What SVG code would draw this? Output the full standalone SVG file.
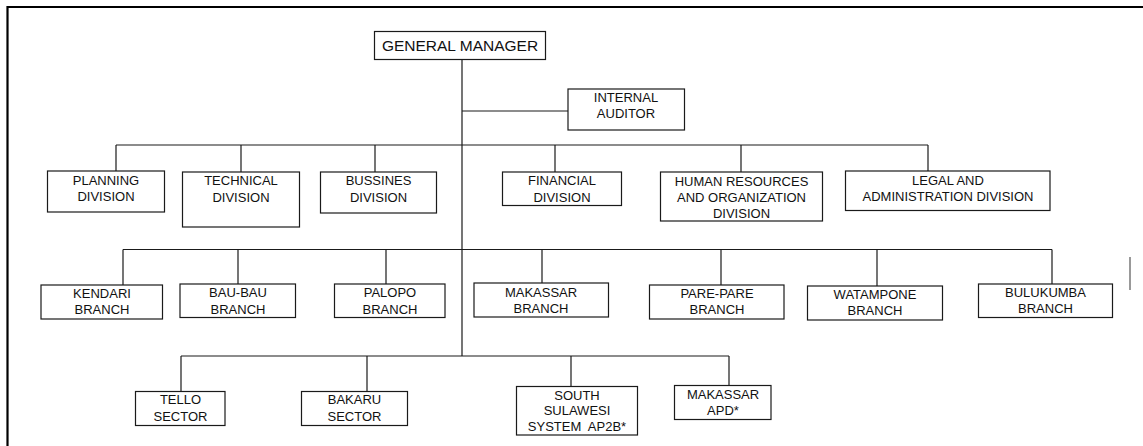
<svg xmlns="http://www.w3.org/2000/svg" width="1143" height="446" viewBox="0 0 1143 446">
  <style>
    .box { fill: #ffffff; stroke: #1a1a1a; stroke-width: 1.2; }
    .line { stroke: #1a1a1a; stroke-width: 1.2; fill: none; }
    .frame { stroke: #000000; stroke-width: 2.2; fill: none; }
    text { font-family: "Liberation Sans", Arial, sans-serif; font-size: 13px; fill: #111111; text-anchor: middle; }
    .title { font-size: 15.5px; }
  </style>
  <rect width="1143" height="446" fill="#ffffff"/>

  <!-- page frame (top and left edges) -->
  <path class="frame" d="M7.5 446 V7 H1143"/>
  <!-- small vertical mark at right margin -->
  <line x1="1130" y1="257" x2="1130" y2="290" stroke="#777777" stroke-width="1.5"/>

  <!-- connectors -->
  <g id="connectors">
    <!-- trunk -->
    <line class="line" x1="462" y1="59" x2="462" y2="356"/>
    <!-- internal auditor -->
    <line class="line" x1="462" y1="111" x2="568" y2="111"/>
    <!-- divisions bus -->
    <line class="line" x1="116" y1="145" x2="928" y2="145"/>
    <line class="line" x1="116" y1="145" x2="116" y2="171"/>
    <line class="line" x1="241" y1="145" x2="241" y2="172"/>
    <line class="line" x1="375" y1="145" x2="375" y2="172"/>
    <line class="line" x1="555" y1="145" x2="555" y2="172"/>
    <line class="line" x1="741" y1="145" x2="741" y2="172"/>
    <line class="line" x1="928" y1="145" x2="928" y2="171"/>
    <!-- branches bus -->
    <line class="line" x1="123" y1="249.5" x2="1052" y2="249.5"/>
    <line class="line" x1="123" y1="249.5" x2="123" y2="285"/>
    <line class="line" x1="238" y1="249.5" x2="238" y2="284"/>
    <line class="line" x1="386" y1="249.5" x2="386" y2="284"/>
    <line class="line" x1="542" y1="249.5" x2="542" y2="283"/>
    <line class="line" x1="721" y1="249.5" x2="721" y2="285"/>
    <line class="line" x1="877" y1="249.5" x2="877" y2="286"/>
    <line class="line" x1="1052" y1="249.5" x2="1052" y2="284"/>
    <!-- sectors bus -->
    <line class="line" x1="181" y1="356" x2="729" y2="356"/>
    <line class="line" x1="181" y1="356" x2="181" y2="391"/>
    <line class="line" x1="367" y1="356" x2="367" y2="391"/>
    <line class="line" x1="571" y1="356" x2="571" y2="386"/>
    <line class="line" x1="729" y1="356" x2="729" y2="385"/>
  </g>

  <g id="general-manager">
    <rect class="box" x="374.5" y="31.5" width="171" height="28"/>
    <text class="title" x="460" y="51">GENERAL MANAGER</text>
  </g>

  <g id="internal-auditor">
    <rect class="box" x="568" y="89" width="116.5" height="41"/>
    <text x="626" y="101.7">INTERNAL</text>
    <text x="626" y="117.7">AUDITOR</text>
  </g>

  <!-- divisions -->
  <g id="planning-division">
    <rect class="box" x="47.5" y="171" width="117" height="41"/>
    <text x="106" y="184.7">PLANNING</text>
    <text x="106" y="201">DIVISION</text>
  </g>
  <g id="technical-division">
    <rect class="box" x="182.5" y="172" width="117" height="55"/>
    <text x="241" y="185.3">TECHNICAL</text>
    <text x="241" y="202">DIVISION</text>
  </g>
  <g id="bussines-division">
    <rect class="box" x="320.5" y="172" width="116" height="41"/>
    <text x="378.5" y="185.3">BUSSINES</text>
    <text x="378.5" y="202">DIVISION</text>
  </g>
  <g id="financial-division">
    <rect class="box" x="502.5" y="172" width="119" height="33.5"/>
    <text x="562" y="185.3">FINANCIAL</text>
    <text x="562" y="202">DIVISION</text>
  </g>
  <g id="hr-division">
    <rect class="box" x="660.5" y="172" width="162" height="49"/>
    <text x="741.5" y="185.7">HUMAN RESOURCES</text>
    <text x="741.5" y="202">AND ORGANIZATION</text>
    <text x="741.5" y="217.7">DIVISION</text>
  </g>
  <g id="legal-division">
    <rect class="box" x="845.5" y="171" width="204.5" height="39.5"/>
    <text x="948" y="185">LEGAL AND</text>
    <text x="948" y="200.7">ADMINISTRATION DIVISION</text>
  </g>

  <!-- branches -->
  <g id="kendari-branch">
    <rect class="box" x="41" y="285" width="121.5" height="34"/>
    <text x="102" y="297.7">KENDARI</text>
    <text x="102" y="314">BRANCH</text>
  </g>
  <g id="baubau-branch">
    <rect class="box" x="180" y="284" width="115.5" height="33.5"/>
    <text x="238" y="296.7">BAU-BAU</text>
    <text x="238" y="314">BRANCH</text>
  </g>
  <g id="palopo-branch">
    <rect class="box" x="334.5" y="284" width="110.5" height="33.5"/>
    <text x="390" y="296.7">PALOPO</text>
    <text x="390" y="314">BRANCH</text>
  </g>
  <g id="makassar-branch">
    <rect class="box" x="474" y="283" width="134.5" height="34"/>
    <text x="541" y="297">MAKASSAR</text>
    <text x="541" y="312.7">BRANCH</text>
  </g>
  <g id="parepare-branch">
    <rect class="box" x="649.5" y="285" width="134.5" height="34"/>
    <text x="717" y="298.3">PARE-PARE</text>
    <text x="717" y="314">BRANCH</text>
  </g>
  <g id="watampone-branch">
    <rect class="box" x="807.5" y="286" width="135" height="34"/>
    <text x="875" y="299">WATAMPONE</text>
    <text x="875" y="315.3">BRANCH</text>
  </g>
  <g id="bulukumba-branch">
    <rect class="box" x="978.5" y="284" width="134" height="33.5"/>
    <text x="1045.5" y="297">BULUKUMBA</text>
    <text x="1045.5" y="312.7">BRANCH</text>
  </g>

  <!-- sectors -->
  <g id="tello-sector">
    <rect class="box" x="135.5" y="391.5" width="89.5" height="34"/>
    <text x="180.5" y="404">TELLO</text>
    <text x="180.5" y="420.7">SECTOR</text>
  </g>
  <g id="bakaru-sector">
    <rect class="box" x="301.5" y="391.5" width="106" height="34"/>
    <text x="354.5" y="404">BAKARU</text>
    <text x="354.5" y="420.7">SECTOR</text>
  </g>
  <g id="south-sulawesi-system">
    <rect class="box" x="516.5" y="386.5" width="121" height="48.5"/>
    <text x="577" y="399.7">SOUTH</text>
    <text x="577" y="415.3">SULAWESI</text>
    <text x="577" y="430.7">SYSTEM&#160; AP2B*</text>
  </g>
  <g id="makassar-apd">
    <rect class="box" x="674.5" y="385.5" width="96.5" height="34"/>
    <text x="723" y="398.7">MAKASSAR</text>
    <text x="723" y="414.7">APD*</text>
  </g>
</svg>
